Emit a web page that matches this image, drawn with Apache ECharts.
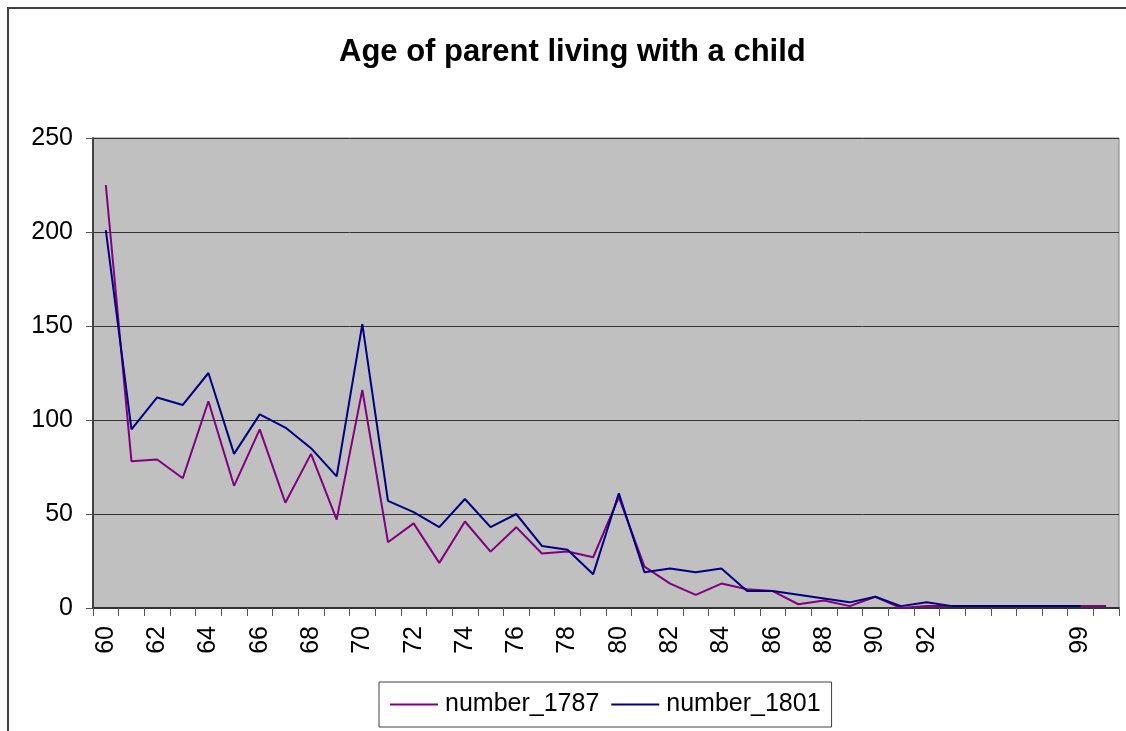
<!DOCTYPE html>
<html>
<head>
<meta charset="utf-8">
<script src="https://cdn.jsdelivr.net/npm/echarts@6/dist/echarts.min.js"></script>
<style>
html,body{margin:0;padding:0;background:#fff;}
#chart{width:1126px;height:731px;}
</style>
</head>
<body>
<div id="chart"></div>
<script>
const titleText = 'Age of parent living with a child';
const categories = ['60','61','62','63','64','65','66','67','68','69','70','71','72','73','74','75','76','77','78','79','80','81','82','83','84','85','86','87','88','89','90','91','92','','','','','','99',''];
const number_1787 = [225,78,79,69,110,65,95,56,82,47,116,35,45,24,46,30,43,29,30,27,59,22,13,7,13,10,9,2,4,1,6,0,1,1,1,1,1,1,1,1];
const number_1801 = [201,95,112,108,125,82,103,96,85,70,151,57,51,43,58,43,50,33,31,18,61,19,21,19,21,9,9,7,5,3,6,1,3,1,1,1,1,1,1];
const yMin = 0, yMax = 250, yStep = 50;

const FONT = '"Liberation Sans", Arial, sans-serif';
const chart = echarts.init(document.getElementById('chart'), null, {renderer: 'canvas'});
chart.setOption({
  animation: false,
  backgroundColor: '#ffffff',
  graphic: [{
    type: 'rect',
    shape: {x: 8, y: 8, width: 1200, height: 800},
    style: {fill: 'none', stroke: '#404040', lineWidth: 2},
    silent: true, z: -10
  }],
  title: {
    text: titleText,
    left: 339,
    top: 37,
    padding: 0,
    textStyle: {fontFamily: FONT, fontSize: 31, fontWeight: 'bold', color: '#000'}
  },
  legend: {
    left: 379,
    top: 682,
    padding: [10, 11, 10, 11],
    itemGap: 12,
    itemWidth: 48,
    itemHeight: 2,
    icon: 'rect',
    borderColor: '#404040',
    borderWidth: 1,
    backgroundColor: '#fff',
    textStyle: {fontFamily: FONT, fontSize: 25, color: '#000', padding: [0, 0, 0, 2]},
    data: ['number_1787', 'number_1801']
  },
  grid: {
    left: 93, right: 7, top: 138, bottom: 123,
    show: true,
    backgroundColor: '#c0c0c0',
    borderColor: '#808080',
    borderWidth: 1
  },
  xAxis: {
    type: 'category',
    data: categories,
    boundaryGap: true,
    axisLine: {show: true, lineStyle: {color: '#333', width: 2}},
    axisTick: {show: true, interval: 0, length: 8, lineStyle: {color: '#555', width: 1}},
    axisLabel: {interval: 1, rotate: 90, margin: 18, fontFamily: FONT, fontSize: 25, color: '#000'},
    splitLine: {show: false}
  },
  yAxis: {
    type: 'value',
    min: yMin, max: yMax, interval: yStep,
    axisLine: {show: true, lineStyle: {color: '#404040', width: 2}},
    axisTick: {show: true, length: 7, lineStyle: {color: '#555', width: 1}},
    axisLabel: {margin: 20, fontFamily: FONT, fontSize: 25, color: '#000'},
    splitLine: {show: true, lineStyle: {color: '#333', width: 1}}
  },
  series: [
    {
      name: 'number_1787', type: 'line', data: number_1787,
      symbol: 'none', showSymbol: false,
      lineStyle: {color: '#800080', width: 2},
      itemStyle: {color: '#800080'}
    },
    {
      name: 'number_1801', type: 'line', data: number_1801,
      symbol: 'none', showSymbol: false,
      lineStyle: {color: '#000080', width: 2},
      itemStyle: {color: '#000080'}
    }
  ]
});
</script>
</body>
</html>
